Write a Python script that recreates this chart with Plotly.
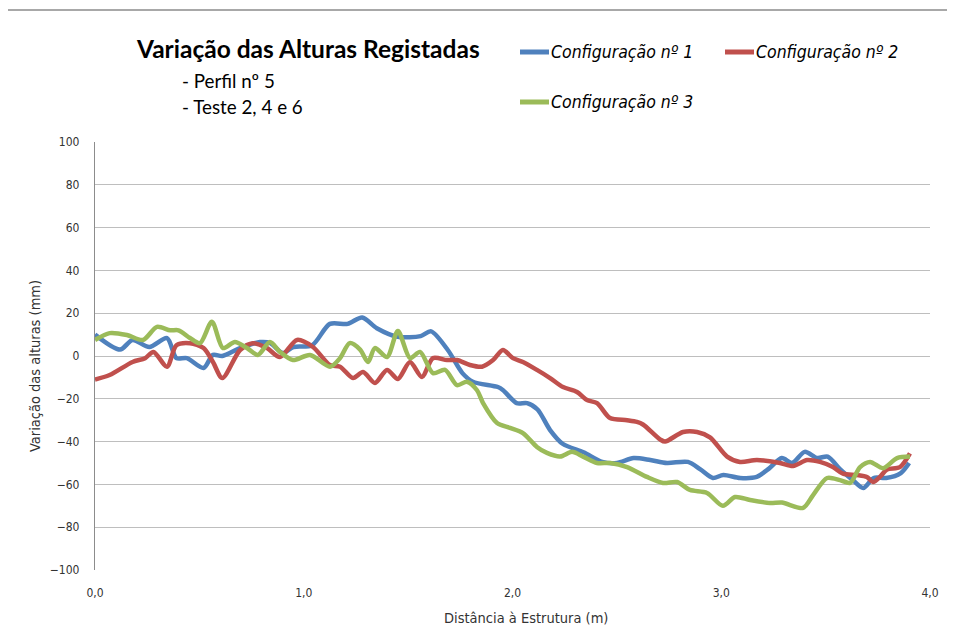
import plotly.graph_objects as go

# Configuração nº 1
x_c1 = [0.00, 0.12, 0.18, 0.26, 0.345, 0.39, 0.44, 0.52, 0.565, 0.61, 0.695, 0.79, 0.84, 0.90, 0.95,
        1.04, 1.125, 1.21, 1.28, 1.35, 1.45, 1.56, 1.61, 1.69, 1.76, 1.81, 1.93, 1.955, 2.02, 2.07,
        2.12, 2.18, 2.24, 2.34, 2.43, 2.50, 2.58, 2.66, 2.74, 2.84, 2.90, 2.96, 3.01, 3.09, 3.17,
        3.23, 3.29, 3.34, 3.40, 3.46, 3.51, 3.57, 3.63, 3.68, 3.73, 3.79, 3.86, 3.90]
y_c1 = [10, 3, 7.5, 4.2, 8.4, -1, -1, -5.6, 0.5, 0, 3.7, 6.5, 6, 1.4, 4.2,
        5, 15, 15, 18, 13, 9, 9.3, 11.5, 2.8, -8, -12, -14.5, -16, -22, -22,
        -25, -34.6, -41, -45, -49.5, -50, -47.7, -48.6, -50, -49.5, -53, -57, -55.6, -57, -56.5,
        -52.5, -47.7, -50, -44.8, -47.7, -47, -53, -58, -61.7, -57, -57, -54.7, -50]

# Configuração nº 2
x_c2 = [0.00, 0.07, 0.18, 0.24, 0.28, 0.345, 0.39, 0.455, 0.52, 0.565, 0.61, 0.695, 0.757, 0.824,
        0.886, 0.968, 1.044, 1.125, 1.174, 1.236, 1.284, 1.341, 1.399, 1.451, 1.509, 1.566, 1.619,
        1.686, 1.734, 1.796, 1.854, 1.907, 1.954, 2.002, 2.05, 2.117, 2.18, 2.242, 2.309, 2.357,
        2.405, 2.467, 2.549, 2.596, 2.625, 2.707, 2.731, 2.817, 2.884, 2.946, 3.028, 3.09, 3.171,
        3.281, 3.344, 3.411, 3.473, 3.535, 3.583, 3.65, 3.698, 3.727, 3.76, 3.794, 3.856, 3.904]
y_c2 = [-11, -8.9, -2.8, -1, 1.9, -5, 5, 6, 3.7, -2.8, -10.3, 2.8, 6, 3.7,
        -0.5, 7.5, 4.2, -4.2, -5, -10.3, -7.5, -12.6, -6.5, -10.7, -2.8, -9.8, -1,
        -1.9, -1.9, -4.2, -5, -1.9, 2.8, -1, -2.8, -6.5, -10.3, -14.5, -16.8, -20.6,
        -22, -29, -30, -30.8, -32, -39, -40, -35.5, -35.5, -38, -47, -49.5, -48.6,
        -50, -51.4, -48.6, -49.5, -51.9, -55, -55.6, -56.5, -58.9, -56.5, -53, -51.9, -45.5]

# Configuração nº 3
x_c3 = [0.00, 0.07, 0.153, 0.23, 0.297, 0.36, 0.40, 0.455, 0.503, 0.56, 0.613, 0.67, 0.728, 0.78,
        0.838, 0.886, 0.948, 1.03, 1.126, 1.174, 1.22, 1.27, 1.308, 1.341, 1.399, 1.451, 1.509,
        1.557, 1.619, 1.677, 1.734, 1.782, 1.83, 1.859, 1.926, 1.988, 2.05, 2.117, 2.165, 2.228,
        2.285, 2.338, 2.405, 2.467, 2.549, 2.644, 2.721, 2.788, 2.85, 2.932, 3.008, 3.066, 3.138,
        3.234, 3.291, 3.392, 3.44, 3.507, 3.569, 3.617, 3.665, 3.713, 3.775, 3.842, 3.904]
y_c3 = [7.5, 10.7, 9.8, 7.5, 13.6, 12, 12, 8.4, 6, 16, 3.7, 6.5, 3.7, 0.5,
        6.5, 1.9, -1.9, 0.5, -5, -1, 6, 3, -2.8, 3.7, -0.5, 11.7, -1,
        1.9, -8, -6.5, -13.6, -12, -16, -22, -31.3, -33.6, -36, -42.5, -45.3, -47,
        -44.8, -47, -50, -50, -51.9, -56.5, -59.3, -58.9, -62.6, -64, -70, -65.9, -67.3,
        -68.7, -68.5, -71, -65, -57, -58, -59.3, -51.9, -49.5, -52.4, -47.7, -47]

series_names = ["Configuração nº 1", "Configuração nº 2", "Configuração nº 3"]
series_colors = ["#4F81BD", "#C0504D", "#9BBB59"]

x_ticks = [0, 1, 2, 3, 4]
y_ticks = list(range(-100, 101, 20))

narrow = "DejaVu Sans Condensed, Liberation Sans Narrow, Arial Narrow, sans-serif"
title_font = "Lato, Open Sans, sans-serif"

# the page body adds an 8px offset; positions below are in screen pixels
OFF = 8
W, H = 955, 631
L, R, T, B = 95 - OFF, 930 - OFF, 142 - OFF, 570 - OFF


def px(x):
    return (x - OFF - L) / (R - L)


def py(y):
    return (B - (y - OFF)) / (B - T)


fig = go.Figure()

for xs, ys, name, color in zip([x_c1, x_c2, x_c3], [y_c1, y_c2, y_c3], series_names, series_colors):
    fig.add_trace(go.Scatter(
        x=xs, y=ys, mode="lines", name=name,
        line=dict(color=color, width=4.5, shape="spline", smoothing=0.8),
    ))

fig.update_xaxes(
    range=[0, 4], tickvals=x_ticks, tickformat=".1f",
    showgrid=False, zeroline=False, showline=False,
    ticklabelstandoff=14,
    tickfont=dict(family=narrow, size=12, color="#333"),
)
fig.update_yaxes(
    range=[-100, 100], tickvals=y_ticks,
    showgrid=True, gridcolor="#BEBEBE", gridwidth=1.3, zeroline=False,
    showline=True, linecolor="#8C8C8C", linewidth=1.3,
    ticklabelstandoff=12,
    tickfont=dict(family=narrow, size=12, color="#333"),
)

annotations = [
    dict(text="<b>Variação das Alturas Registadas</b>", x=px(308), y=py(48),
         xanchor="center", font=dict(family=title_font, size=24.5, color="#000")),
    dict(text="- Perfil nº 5", x=px(180), y=py(81),
         xanchor="left", font=dict(family=title_font, size=18.8, color="#000")),
    dict(text="- Teste 2, 4 e 6", x=px(180), y=py(106),
         xanchor="left", font=dict(family=title_font, size=18.8, color="#000")),
    # axis titles (Excel places them slightly off-centre)
    dict(text="Distância à Estrutura (m)", x=px(526), y=py(618),
         xanchor="center", font=dict(family=narrow, size=14.5, color="#333")),
    dict(text="Variação das alturas (mm)", x=px(35), y=py(366), textangle=-90,
         xanchor="center", font=dict(family=narrow, size=14.5, color="#333")),
]
shapes = [
    dict(type="rect", x0=px(4), x1=px(951), y0=py(660), y1=py(10),
         line=dict(color="#8C8C8C", width=1.3), fillcolor="rgba(0,0,0,0)", layer="below"),
]

# legend drawn by hand: two entries on the first row, one on the second
legend_pos = [(520, 52), (725, 52), (520, 102)]
for (lx, ly), name, color in zip(legend_pos, series_names, series_colors):
    shapes.append(dict(type="line", x0=px(lx), x1=px(lx + 29), y0=py(ly), y1=py(ly),
                       line=dict(color=color, width=5)))
    annotations.append(dict(text="<i>" + name + "</i>", x=px(lx + 29), y=py(ly),
                            xanchor="left", font=dict(family=narrow, size=17.5, color="#000")))

for a in annotations:
    a.update(xref="paper", yref="paper", yanchor="middle", showarrow=False)
for s in shapes:
    s.update(xref="paper", yref="paper")

fig.update_layout(
    width=W, height=H,
    margin=dict(l=L, r=W - R, t=T, b=H - B),
    plot_bgcolor="white", paper_bgcolor="white",
    separators=", ",
    showlegend=False,
    annotations=annotations,
    shapes=shapes,
)

fig.write_html("out.html")
